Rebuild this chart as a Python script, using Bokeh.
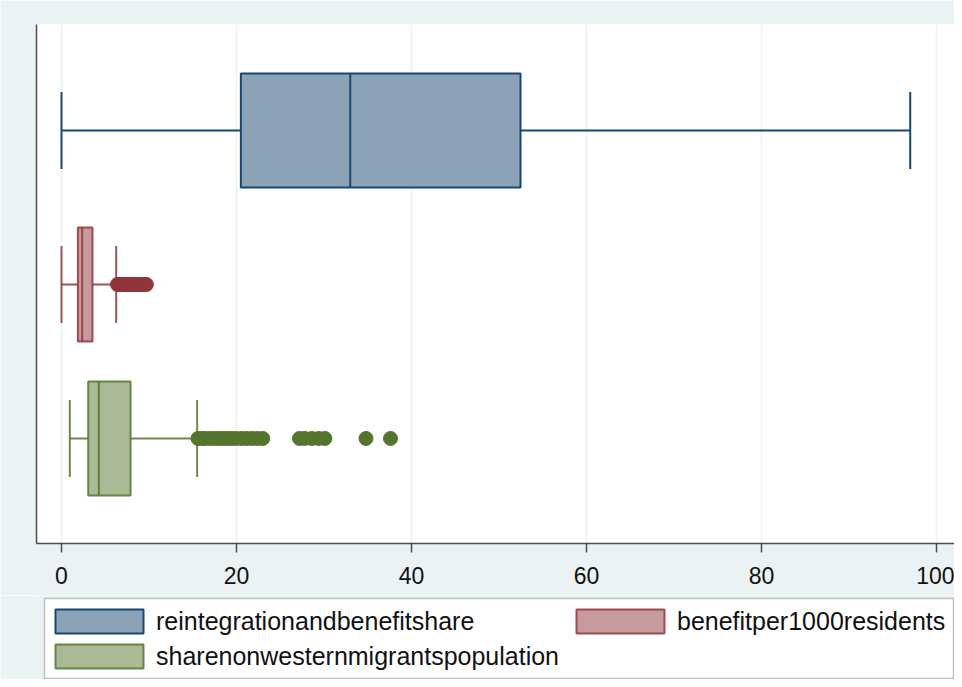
from bokeh.plotting import figure
from bokeh.layouts import column
from bokeh.models import Range1d, FixedTicker, Legend, LegendItem, BoxAnnotation
from bokeh.embed import file_html
from bokeh.resources import INLINE

# ---- data ----
series = ["reintegrationandbenefitshare", "benefitper1000residents",
          "sharenonwesternmigrantspopulation"]
lower_whisker = [0.0, 0.0, 0.95]
q1 = [20.5, 1.87, 3.05]
median = [33.0, 2.36, 4.27]
q3 = [52.46, 3.54, 7.89]
upper_whisker = [97.0, 6.25, 15.5]
benefit_outliers = [6.4, 6.6, 6.8, 7.0, 7.2, 7.4, 7.6, 7.8, 8.0, 8.3, 8.6,
                    8.9, 9.2, 9.4, 9.7]
migrant_outliers = [15.6, 16.0, 16.4, 17.0, 17.5, 18.0, 18.5, 19.0, 19.5,
                    20.0, 20.6, 21.2, 21.8, 22.4, 23.0, 27.2, 27.8, 28.6,
                    29.4, 30.1, 34.8, 37.6]
x_ticks = [0, 20, 40, 60, 80, 100]

# ---- styles ----
line_colors = ["#1a476f", "#90353b", "#55752f"]
fill_colors = ["#8ca3b7", "#c79a9d", "#aaba97"]
line_alphas = [1.0, 0.85, 0.85]
positions = [3, 2, 1]
BOX_HALF = 0.37
CAP_HALF = 0.25
BG = "#eaf2f3"
FONT = "Liberation Sans"

p = figure(width=954, height=595, output_backend="svg", toolbar_location=None,
           x_range=Range1d(-2.857, 102.06), y_range=Range1d(0.318, 3.688),
           min_border_left=36, min_border_right=0, min_border_top=24,
           min_border_bottom=52)
p.background_fill_color = "white"
p.border_fill_color = BG
p.outline_line_color = None

for i, name in enumerate(series):
    y = positions[i]
    lc, fc, la = line_colors[i], fill_colors[i], line_alphas[i]
    p.segment(x0=[lower_whisker[i], q3[i]], y0=[y, y],
              x1=[q1[i], upper_whisker[i]], y1=[y, y],
              line_color=lc, line_width=2, line_alpha=la)
    p.segment(x0=[lower_whisker[i], upper_whisker[i]], y0=[y - CAP_HALF] * 2,
              x1=[lower_whisker[i], upper_whisker[i]], y1=[y + CAP_HALF] * 2,
              line_color=lc, line_width=2, line_alpha=la)
    p.hbar(y=[y], height=2 * BOX_HALF, left=[q1[i]], right=[q3[i]],
           fill_color=fc, line_color=lc, line_width=2, line_alpha=la)
    p.segment(x0=[median[i]], y0=[y - BOX_HALF], x1=[median[i]], y1=[y + BOX_HALF],
              line_color=lc, line_width=2, line_alpha=la)

p.scatter(x=benefit_outliers, y=[positions[1]] * len(benefit_outliers),
          size=14, fill_color=line_colors[1], line_color=line_colors[1])
p.scatter(x=migrant_outliers, y=[positions[2]] * len(migrant_outliers),
          size=14, fill_color=line_colors[2], line_color=line_colors[2])

p.xaxis.ticker = FixedTicker(ticks=x_ticks)
p.xaxis.axis_line_color = "#4d4d4d"
p.xaxis.axis_line_width = 1.5
p.xaxis.major_tick_line_color = "#4d4d4d"
p.xaxis.major_tick_line_width = 1.5
p.xaxis.major_tick_out = 9
p.xaxis.major_tick_in = 0
p.xaxis.minor_tick_line_color = None
p.xaxis.major_label_text_font = FONT
p.xaxis.major_label_text_font_size = "23px"
p.xaxis.major_label_text_color = "#111111"
p.xaxis.major_label_standoff = 14

p.yaxis.ticker = FixedTicker(ticks=[])
p.yaxis.axis_line_color = "#4d4d4d"
p.yaxis.axis_line_width = 1.5
p.yaxis.major_tick_line_color = None
p.yaxis.minor_tick_line_color = None

p.xgrid.ticker = FixedTicker(ticks=x_ticks)
p.xgrid.grid_line_color = BG
p.xgrid.grid_line_width = 1.5
p.ygrid.grid_line_color = None

# ---- legend strip (its frame is aligned with the plot's: starts 36px in) ----
L_H = 84
FRAME_L, FRAME_W = 36, 918
lg = figure(width=954, height=L_H, output_backend="svg", toolbar_location=None,
            x_range=Range1d(0, 1), y_range=Range1d(100, 101),
            x_axis_location=None, y_axis_location=None,
            min_border_left=FRAME_L, min_border_right=0, min_border_top=0,
            min_border_bottom=0)
lg.background_fill_color = BG
lg.border_fill_color = BG
lg.outline_line_color = None
lg.grid.visible = False


def px_x(px):   # canvas pixel -> strip x data
    return (px - FRAME_L) / FRAME_W


def px_y(py):   # strip pixel from top -> strip y data
    return 100 + (L_H - py) / L_H


lg.add_layout(BoxAnnotation(left=px_x(44), right=px_x(953), top=px_y(3),
                            bottom=px_y(83), fill_color="white", fill_alpha=1.0,
                            line_color="#3c3c3c", line_width=1.5))

swatches = []
for i in range(len(series)):
    # legend keys only; their data lie outside this strip's ranges
    swatches.append(lg.hbar(y=[positions[i]], height=2 * BOX_HALF,
                            left=[q1[i]], right=[q3[i]],
                            fill_color=fill_colors[i], line_color=line_colors[i],
                            line_width=2, line_alpha=line_alphas[i]))

common = dict(glyph_width=110, glyph_height=30, label_height=30, label_standoff=2,
              label_text_font=FONT, label_text_font_size="25px",
              label_text_color="#111111", padding=0, spacing=0, margin=0,
              border_line_color=None, background_fill_alpha=0.0)

# (legend index, x offset in frame, y offset of its bottom from strip bottom)
placements = [(0, 8, 43), (1, 529, 43), (2, 8, 8)]
for idx, vx, vy in placements:
    lg.add_layout(Legend(items=[LegendItem(label=series[idx],
                                           renderers=[swatches[idx]])],
                         location=(vx, vy), **common))

layout = column(p, lg, spacing=0)
open("out.html", "w").write(file_html(layout, INLINE))
